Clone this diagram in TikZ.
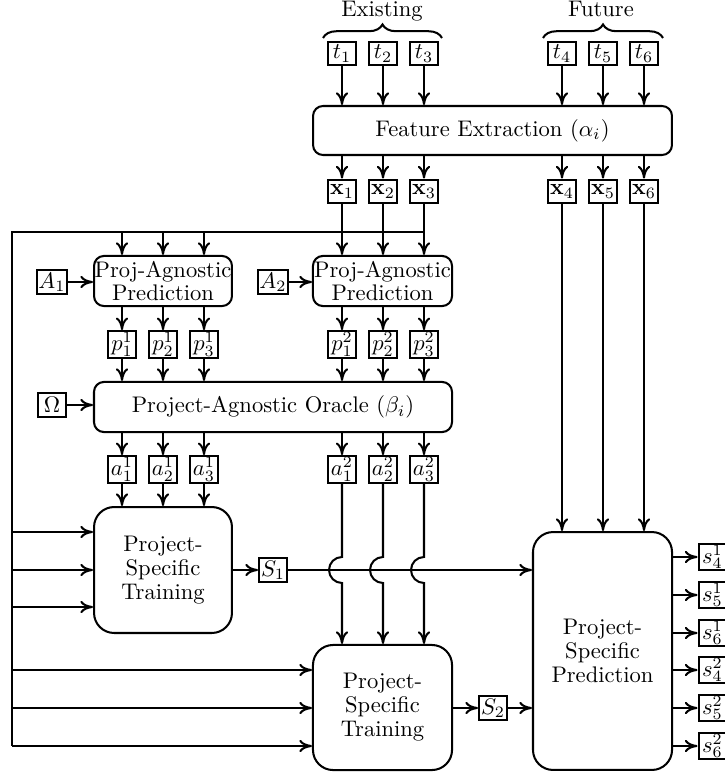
\documentclass[tikz,border=0pt]{standalone}
\usetikzlibrary{arrows.meta,decorations.pathreplacing}
\begin{document}
\begin{tikzpicture}[x=0.443pt,y=-0.443pt,
  line/.style={line width=0.9pt},
  arr/.style={line width=0.9pt,-{To[length=5.6pt,width=5.4pt]}},
  sb/.style={draw,line width=0.9pt,inner sep=0.6pt,minimum width=12.4pt,minimum height=10.6pt},
  rb/.style={draw,line width=0.9pt,rounded corners=4.4pt,align=center,inner sep=0pt},
  tb/.style={draw,line width=0.9pt,rounded corners=8.9pt,align=center,inner sep=0pt,minimum width=61.1pt},
]
\useasboundingbox (0,0) rectangle (724,773);

% top labels and braces
\coordinate (bE1) at (323,38); \coordinate (bE2) at (442,38);
\coordinate (bF1) at (543,38); \coordinate (bF2) at (663,38);
\draw[line,decorate,decoration={brace,amplitude=6pt}] (bE1) -- (bE2);
\draw[line,decorate,decoration={brace,amplitude=6pt}] (bF1) -- (bF2);
\node[anchor=base] (ex) at (382,17) {Existing};
\node[anchor=base] (fu) at (601,17) {Future};

% feature extraction
\node[rb,minimum width=159pt,minimum height=21.7pt] (FE) at (492.5,130.5) {Feature Extraction ($\alpha_i$)};
\foreach \n/\x in {1/342,2/383,3/424,4/562,5/603,6/644} {
  \node[sb] (t\n) at (\x,53.5) {$t_{\n}$};
  \node[sb] (x\n) at (\x,191.5) {$\mathbf{x}_{\n}$};
  \draw[arr] (t\n) -- (t\n |- FE.north);
  \draw[arr] (x\n |- FE.south) -- (x\n);
}

% proj-agnostic prediction
\node[rb,minimum width=61.1pt,minimum height=22.2pt] (PA1) at (163,281) {Proj-Agnostic\\[-2.2pt]Prediction};
\node[rb,minimum width=61.6pt,minimum height=22.2pt] (PA2) at (382.5,281) {Proj-Agnostic\\[-2.2pt]Prediction};
\node[sb] (A1) at (52,282) {$A_1$};
\node[sb] (A2) at (273,282) {$A_2$};
\draw[arr] (A1) -- (PA1.west |- A1);
\draw[arr] (A2) -- (PA2.west |- A2);

% oracle
\node[rb,minimum width=158.6pt,minimum height=22.2pt] (OR) at (273,407) {Project-Agnostic Oracle ($\beta_i$)};
\node[sb] (Om) at (52,405) {$\Omega$};
\draw[arr] (Om) -- (OR.west |- Om);

% project-specific training and prediction
\node[tb,minimum height=55.8pt] (PST1) at (163,570) {Project-\\[-1.4pt]Specific\\[-1.4pt]Training};
\node[tb,minimum width=61.6pt,minimum height=55.4pt] (PST2) at (382.5,707.5) {Project-\\[-1.4pt]Specific\\[-1.4pt]Training};
\node[tb,minimum width=61.6pt,minimum height=105.4pt] (PSP) at (602.5,651) {Project-\\[-1.4pt]Specific\\[-1.4pt]Prediction};
\node[sb] (S1) at (273,570) {$S_1$};
\node[sb] (S2) at (493,708) {$S_2$};

% bus
\coordinate (busR) at (424,232);
\coordinate (busL) at (12,232);
\coordinate (busB) at (12,746);
\draw[line] (busR) -- (busL) -- (busB);
\coordinate (yA) at (0,532); \coordinate (yB) at (0,570); \coordinate (yC) at (0,607);
\coordinate (yD) at (0,670); \coordinate (yE) at (0,708); \coordinate (yF) at (0,746);
\coordinate (hop) at (0,557);
\foreach \c in {yA,yB,yC} \draw[arr] (busL |- \c) -- (PST1.west |- \c);
\foreach \c in {yD,yE,yF} \draw[arr] (busL |- \c) -- (PST2.west |- \c);

\foreach \n/\x in {1/122,2/163,3/204} {
  \node[sb] (p1\n) at (\x,344.5) {$p^1_{\n}$};
  \node[sb] (a1\n) at (\x,469.5) {$a^1_{\n}$};
  \draw[arr] (p1\n |- busL) -- (p1\n |- PA1.north);
  \draw[arr] (p1\n |- PA1.south) -- (p1\n);
  \draw[arr] (p1\n) -- (p1\n |- OR.north);
  \draw[arr] (a1\n |- OR.south) -- (a1\n);
  \draw[arr] (a1\n) -- (a1\n |- PST1.north);
}
\foreach \n/\x in {1/342,2/383,3/424} {
  \node[sb] (p2\n) at (\x,344.5) {$p^2_{\n}$};
  \node[sb] (a2\n) at (\x,469.5) {$a^2_{\n}$};
  \draw[arr] (x\n) -- (x\n |- PA2.north);
  \draw[arr] (p2\n |- PA2.south) -- (p2\n);
  \draw[arr] (p2\n) -- (p2\n |- OR.north);
  \draw[arr] (a2\n |- OR.south) -- (a2\n);
  \draw[arr] (a2\n) -- (a2\n |- hop) arc[start angle=90,end angle=270,radius=5.76pt] -- (a2\n |- PST2.north);
}
\foreach \n in {4,5,6} \draw[arr] (x\n) -- (x\n |- PSP.north);

\draw[arr] (PST1) -- (S1);
\draw[arr] (S1) -- (PSP.west |- S1);
\draw[arr] (PST2.east |- S2) -- (S2);
\draw[arr] (S2) -- (PSP.west |- S2);

\foreach \ua/\ub/\y in {1/4/557,1/5/595,1/6/633,2/4/670,2/5/708,2/6/746} {
  \node[sb] (s\ua\ub) at (712.5,\y) {$s^{\ua}_{\ub}$};
  \draw[arr] (PSP.east |- s\ua\ub) -- (s\ua\ub);
}
\end{tikzpicture}
\end{document}
